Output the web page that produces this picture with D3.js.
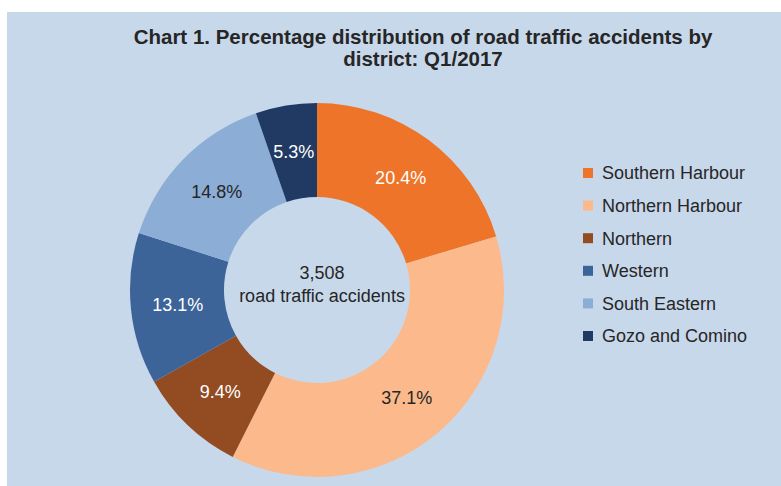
<!DOCTYPE html>
<html>
  <head>
    <script src="https://d3js.org/d3.v7.min.js"></script>
    <style>
      body { margin: 0; background: #fff; }
      text { font-family: "Liberation Sans", Arial, sans-serif; }
    </style>
  </head>
  <body>
    <div id="chart"></div>
    <script>
      // data
      const districts = ["Southern Harbour", "Northern Harbour", "Northern", "Western", "South Eastern", "Gozo and Comino"];
      const shares = [20.4, 37.1, 9.4, 13.1, 14.8, 5.3];
      const colours = ["#ed7428", "#fbb98c", "#934c22", "#3c6499", "#8cadd6", "#213a63"];
      const labelColours = ["#fff", "#262626", "#fff", "#fff", "#262626", "#fff"];
      const total = "3,508";

      const W = 781, H = 486;
      const svg = d3.select("#chart").append("svg")
        .attr("width", W).attr("height", H);

      // panel
      svg.append("rect")
        .attr("x", 7).attr("y", 12)
        .attr("width", W - 7).attr("height", H - 12)
        .attr("fill", "#c8d8eb");

      // title
      const title = svg.append("text")
        .attr("x", 423).attr("y", 44)
        .attr("text-anchor", "middle")
        .style("font-size", "20.5px").style("font-weight", "bold")
        .attr("fill", "#262626");
      title.append("tspan").attr("x", 423).text("Chart 1. Percentage distribution of road traffic accidents by");
      title.append("tspan").attr("x", 423).attr("dy", 22).text("district: Q1/2017");

      const cx = 317, cy = 290, outer = 187, inner = 93;
      const g = svg.append("g").attr("transform", `translate(${cx},${cy})`);

      const pie = d3.pie().sort(null).value(d => d);
      const arcs = pie(shares);
      const arc = d3.arc().innerRadius(inner).outerRadius(outer);
      const labelArc = d3.arc().innerRadius((inner + outer) / 2).outerRadius((inner + outer) / 2);

      g.selectAll("path")
        .data(arcs)
        .enter().append("path")
        .attr("d", arc)
        .attr("fill", (d, i) => colours[i]);

      g.selectAll(".lbl")
        .data(arcs)
        .enter().append("text")
        .attr("class", "lbl")
        .attr("transform", d => `translate(${labelArc.centroid(d)})`)
        .attr("text-anchor", "middle")
        .attr("dy", "0.35em")
        .style("font-size", "18px")
        .attr("fill", (d, i) => labelColours[i])
        .text(d => d.data.toFixed(1) + "%");

      // centre text
      g.append("text").attr("x", 5).attr("y", -17).attr("dy", "0.35em")
        .attr("text-anchor", "middle").style("font-size", "18px").attr("fill", "#262626")
        .text(total);
      g.append("text").attr("x", 5).attr("y", 6).attr("dy", "0.35em")
        .attr("text-anchor", "middle").style("font-size", "18px").attr("fill", "#262626")
        .text("road traffic accidents");

      // legend
      const y = d3.scalePoint().domain(districts).range([173, 336]);
      const legend = svg.append("g").selectAll("g")
        .data(districts)
        .enter().append("g")
        .attr("transform", d => `translate(583,${y(d)})`);
      legend.append("rect")
        .attr("x", 0).attr("y", -5)
        .attr("width", 10).attr("height", 10)
        .attr("fill", (d, i) => colours[i]);
      legend.append("text")
        .attr("x", 19).attr("dy", "0.35em")
        .style("font-size", "18px").attr("fill", "#262626")
        .text(d => d);
    </script>
  </body>
</html>
